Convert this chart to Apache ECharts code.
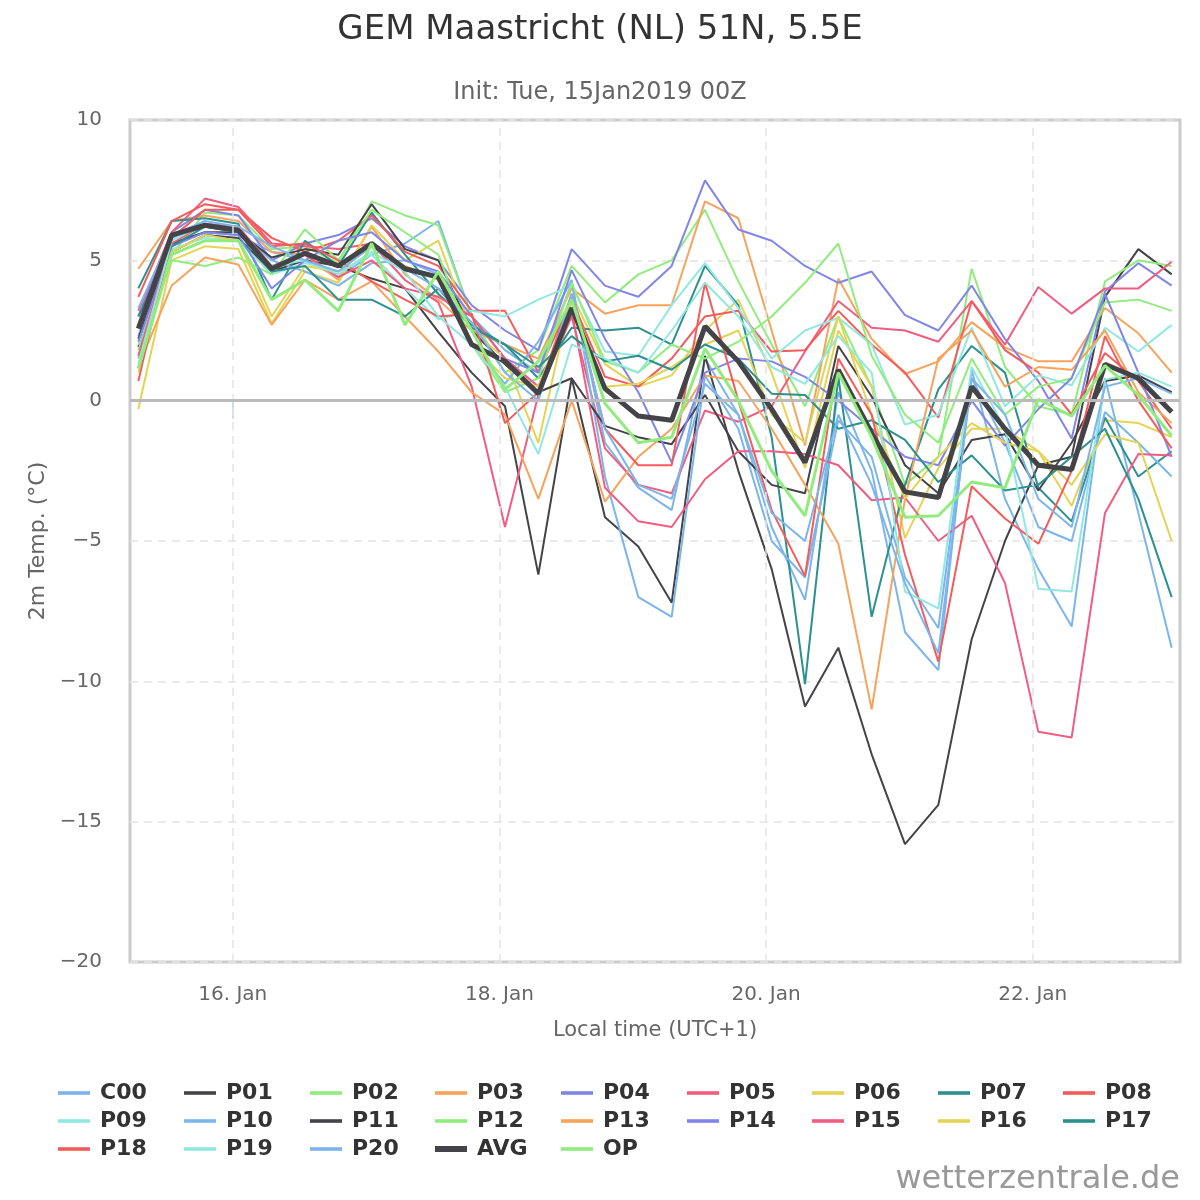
<!DOCTYPE html>
<html>
<head>
<meta charset="utf-8">
<title>GEM Maastricht</title>
<script src="https://cdn.jsdelivr.net/npm/echarts@6/dist/echarts.min.js"></script>
<style>
  html, body { margin: 0; padding: 0; background: #fff; }
  #chart { width: 1200px; height: 1200px; }
</style>
</head>
<body>
<div id="chart"></div>
<script>
// hours after 15 Jan 00:00 local time (UTC+1), one value every 6 h
const hours = [7, 13, 19, 25, 31, 37, 43, 49, 55, 61, 67, 73, 79, 85, 91, 97,
               103, 109, 115, 121, 127, 133, 139, 145, 151, 157, 163, 169, 175, 181, 187, 193];

const dayTicks = [24, 72, 120, 168];
const dayLabels = ['16. Jan', '18. Jan', '20. Jan', '22. Jan'];

// 2m temperature (°C) per ensemble member
const C00 = [1.5, 5.6, 6.0, 5.9, 5.3, 5.0, 4.4, 5.2, 5.6, 6.4, 3.0, 1.8, 1.0, 4.2, -1.5, -3.1, -3.9, 1.5, -0.5, -4.5, -7.1, 0.3, -2.5, -8.25, -9.6, 1.1, -3.5, -6.0, -8.05, 0.8, -4.0, -8.8];
const P01 = [1.9, 5.3, 5.9, 5.8, 4.6, 5.0, 4.8, 4.35, 4.0, 2.45, 1.0, -0.2, -6.2, 0.8, -4.15, -5.2, -7.2, 1.6, -2.5, -6.0, -10.9, -8.8, -12.6, -15.8, -14.4, -8.5, -5.0, -2.3, -2.0, 3.7, 5.4, 4.5];
const P02 = [1.8, 5.2, 6.7, 6.6, 5.4, 5.5, 4.9, 7.1, 6.6, 6.25, 3.0, 1.0, 1.8, 4.8, 3.5, 4.5, 5.0, 6.8, 4.25, 2.0, -0.2, 3.0, 0.5, -3.0, -2.0, 4.7, 1.2, -0.2, -0.5, 4.25, 5.0, 4.8];
const P03 = [4.7, 6.4, 6.6, 6.4, 5.3, 5.2, 4.3, 6.2, 4.5, 3.6, 2.5, 2.0, 1.5, 4.0, 3.1, 3.4, 3.4, 7.1, 6.5, 2.5, -1.6, 4.35, 2.2, 0.95, 1.4, 2.8, 1.9, 1.4, 1.4, 3.3, 2.4, 1.0];
const P04 = [3.0, 6.0, 6.8, 6.6, 5.0, 5.6, 5.9, 6.5, 5.5, 5.0, 3.4, 2.5, 1.8, 5.4, 4.1, 3.7, 4.8, 7.85, 6.1, 5.7, 4.8, 4.2, 4.6, 3.05, 2.5, 4.1, 2.2, 0.7, -1.35, 3.9, 4.9, 4.1];
const P05 = [3.2, 6.0, 7.2, 6.9, 5.6, 5.5, 5.4, 5.6, 4.3, 3.5, 0.5, -4.5, 0.2, 3.0, -1.7, -3.0, -3.3, -0.35, -0.75, -0.2, 1.75, 3.55, 2.6, 2.5, 2.1, 3.55, 2.0, 4.05, 3.1, 4.0, 4.0, 4.95];
const P06 = [-0.3, 5.0, 5.5, 5.4, 2.75, 4.6, 4.2, 6.25, 5.0, 5.7, 2.5, 1.5, -1.5, 3.8, 1.3, 0.5, 0.9, 2.5, 3.6, 1.0, -2.4, 2.5, 0.5, -4.9, -2.4, -1.0, -1.0, -1.8, -3.75, -0.7, -0.8, -1.3];
const P07 = [4.0, 6.4, 6.5, 6.3, 3.6, 5.7, 4.8, 6.7, 5.2, 3.8, 2.7, 2.0, 0.8, 2.6, 2.5, 2.6, 2.0, 4.8, 3.4, -1.3, -10.1, 0.85, -7.7, -3.0, 0.4, 1.95, 1.0, -3.1, -4.3, -0.6, -2.7, -1.8];
const P08 = [3.7, 6.4, 7.0, 6.8, 5.8, 5.3, 5.7, 6.6, 5.3, 4.8, 3.2, 3.2, 1.0, 3.6, 0.85, 0.5, 1.5, 3.0, 3.2, 1.75, 1.8, 3.2, 2.0, 1.0, -0.6, 3.55, 1.8, 1.0, -0.5, 1.7, 0.7, -1.0];
const P09 = [2.0, 5.4, 5.8, 5.7, 4.5, 4.9, 4.6, 5.2, 4.0, 2.9, 3.2, 3.0, 3.6, 4.1, 1.75, 1.6, 3.4, 4.9, 3.3, 1.5, 2.5, 2.95, 2.0, -0.85, -0.5, 2.6, -0.2, 0.9, 0.55, 2.6, 1.75, 2.7];
const P10 = [2.3, 5.8, 6.2, 6.0, 5.0, 4.6, 4.1, 4.9, 5.0, 4.5, 2.0, 0.6, 2.1, 4.3, -2.7, -7.0, -7.7, 0.9, -1.0, -5.0, -6.3, -0.7, -2.0, -6.3, -8.1, 0.8, -1.5, -4.5, -5.0, -0.4, -1.5, -2.7];
const P11 = [2.2, 5.6, 6.0, 6.0, 5.1, 5.4, 5.2, 7.0, 5.4, 5.0, 2.5, 1.3, 0.3, 0.8, -0.9, -1.3, -1.55, 0.2, -1.8, -3.0, -3.3, 1.95, 0.15, -2.3, -3.3, -1.4, -1.2, -3.2, -1.5, 0.7, 0.9, 0.3];
const P12 = [1.6, 5.0, 4.8, 5.1, 4.5, 6.1, 5.0, 6.8, 6.0, 5.2, 2.0, 0.3, 0.8, 4.2, 1.4, 1.0, 2.0, 1.5, 2.1, 3.0, 4.2, 5.6, 1.6, -0.5, -1.5, 1.5, -0.5, 0.5, 0.8, 3.5, 3.6, 3.2];
const P13 = [1.2, 4.1, 5.1, 4.85, 2.7, 4.3, 3.6, 4.25, 3.0, 1.75, 0.3, -0.5, -3.5, 0.0, -3.6, -2.0, -1.0, 0.9, 0.7, -1.0, -3.0, -5.1, -11.0, -3.5, 1.5, 2.5, 0.5, 1.2, 1.1, 2.5, 0.3, -0.8];
const P14 = [2.1, 5.5, 6.0, 5.9, 4.0, 5.0, 5.7, 6.0, 5.0, 4.6, 3.0, 1.5, 1.0, 4.65, 2.2, 0.3, -2.2, 1.0, 1.5, 1.4, 0.85, 0.0, -1.0, -2.0, -2.3, 0.0, -1.6, -0.3, 0.8, 3.8, 1.0, -2.0];
const P15 = [1.6, 5.6, 6.3, 6.2, 4.8, 5.2, 4.4, 5.0, 4.0, 3.7, 3.0, 1.5, 0.5, 3.2, -3.1, -4.3, -4.5, -2.8, -1.8, -1.8, -1.9, -2.3, -3.55, -3.45, -5.0, -4.1, -6.5, -11.8, -12.0, -4.0, -1.9, -1.95];
const P16 = [1.0, 5.3, 5.9, 5.7, 3.0, 4.8, 4.6, 5.5, 4.8, 4.3, 2.0, 0.8, 0.5, 3.5, 0.5, 0.6, 1.2, 2.0, 2.5, -0.5, -1.5, 3.0, -0.5, -3.5, -2.0, -0.8, -1.5, -1.8, -3.0, -1.2, -1.5, -5.0];
const P17 = [3.0, 5.5, 6.2, 6.0, 4.6, 4.8, 3.6, 3.6, 3.0, 4.0, 2.6, 2.0, 1.2, 2.3, 1.4, 1.6, 1.1, 2.0, 1.5, 0.25, 0.2, -1.0, -0.7, -1.4, -2.9, -1.95, -3.2, -3.0, -2.0, -1.0, -3.5, -7.0];
const P18 = [0.7, 5.8, 6.8, 6.8, 5.5, 5.6, 5.0, 4.25, 3.6, 3.0, 3.1, -0.8, 0.3, 3.8, -1.0, -2.3, -2.3, 4.2, 0.0, -3.9, -6.25, 1.5, -0.5, -5.5, -9.3, -3.05, -4.2, -5.1, -2.5, 2.3, 0.0, -1.7];
const P19 = [1.3, 5.7, 6.3, 6.1, 4.8, 5.0, 4.5, 5.3, 4.6, 3.0, 2.0, 0.5, -1.9, 2.0, 1.5, 1.0, 2.5, 4.2, 3.0, 1.2, 0.6, 2.3, 1.0, -6.8, -7.4, 1.2, -1.0, -6.7, -6.8, 0.75, 1.0, 0.5];
const P20 = [3.3, 5.9, 6.4, 6.2, 5.5, 5.0, 4.6, 5.5, 4.7, 4.0, 2.8, 1.0, 0.0, 3.8, -1.0, -3.0, -3.5, 0.6, -0.5, -4.0, -5.0, -0.5, -3.0, -6.5, -9.0, 0.8, -0.5, -3.5, -4.5, 0.5, 0.8, 0.25];
const AVG = [2.57, 5.9, 6.25, 6.07, 4.7, 5.25, 4.8, 5.6, 4.7, 4.4, 2.0, 1.4, 0.25, 3.3, 0.43, -0.55, -0.7, 2.65, 1.4, -0.3, -2.2, 1.1, -1.15, -3.25, -3.45, 0.5, -1.0, -2.3, -2.45, 1.3, 0.8, -0.4];
const OP = [1.14, 5.2, 5.7, 5.7, 3.6, 4.3, 3.2, 5.6, 2.7, 4.6, 2.5, 0.4, 1.4, 3.6, -0.1, -1.5, -1.3, 1.85, 0.0, -2.5, -4.1, 1.0, -1.3, -4.15, -4.1, -2.9, -3.1, 0.05, -0.55, 1.25, 0.2, -1.25];

const palette = ['#7cb5ec', '#434348', '#90ed7d', '#f7a35c', '#8085e9',
                 '#f15c80', '#e4d354', '#2b908f', '#f45b5b', '#91e8e1'];

const members = [
    ['C00', C00], ['P01', P01], ['P02', P02], ['P03', P03], ['P04', P04],
    ['P05', P05], ['P06', P06], ['P07', P07], ['P08', P08], ['P09', P09],
    ['P10', P10], ['P11', P11], ['P12', P12], ['P13', P13], ['P14', P14],
    ['P15', P15], ['P16', P16], ['P17', P17], ['P18', P18], ['P19', P19],
    ['P20', P20]
];

const FONT = 'DejaVu Sans';

const toPoints = (vals) => hours.map((h, i) => [h, vals[i]]);

const series = members.map(([name, vals], i) => ({
    name: name,
    type: 'line',
    data: toPoints(vals),
    color: palette[i % palette.length],
    symbol: 'none',
    lineStyle: { width: 2 },
    emphasis: { disabled: true },
    z: 3
}));

series.push({
    name: 'AVG',
    type: 'line',
    data: toPoints(AVG),
    color: '#434348',
    symbol: 'none',
    lineStyle: { width: 5 },
    emphasis: { disabled: true },
    z: 4
});

series.push({
    name: 'OP',
    type: 'line',
    data: toPoints(OP),
    color: '#90ed7d',
    symbol: 'none',
    lineStyle: { width: 3 },
    emphasis: { disabled: true },
    z: 5
});

// grid helpers: zero line and dashed day lines
series.push({
    type: 'line',
    data: [],
    silent: true,
    z: 1,
    markLine: {
        silent: true,
        symbol: ['none', 'none'],
        label: { show: false },
        lineStyle: { color: '#e3e3e3', width: 1.5, type: [8, 6] },
        data: [
            ...dayTicks.map(h => ({ xAxis: h })),
            { yAxis: 0, lineStyle: { color: '#bbbbbb', width: 3, type: 'solid' } }
        ]
    }
});

// legend laid out as 9 columns x 3 rows
const legendRows = [
    ['C00', 'P01', 'P02', 'P03', 'P04', 'P05', 'P06', 'P07', 'P08'],
    ['P09', 'P10', 'P11', 'P12', 'P13', 'P14', 'P15', 'P16', 'P17'],
    ['P18', 'P19', 'P20', 'AVG', 'OP']
];
const legendLeft = [58, 184, 310, 435, 561, 687, 812, 938, 1063];

// thin bar for members (bbox kept 32x6 by the extra move points), full bar for AVG
const thinIcon = 'path://M0,0 M0,1.2 h32 v3.6 h-32 z M32,6';

const legends = legendLeft.map((x, col) => ({
    orient: 'vertical',
    left: x,
    top: 1079,
    padding: 0,
    itemWidth: 32,
    itemHeight: 6,
    itemGap: 0,
    selectedMode: false,
    symbolKeepAspect: false,
    textStyle: {
        fontFamily: FONT,
        fontWeight: 'bold',
        fontSize: 22,
        color: '#333333',
        lineHeight: 28,
        padding: [0, 0, 0, 5]
    },
    data: legendRows.filter(r => r[col]).map(r => (
        r[col] === 'AVG' ? { name: 'AVG', icon: 'rect' } : { name: r[col], icon: thinIcon }
    ))
}));

const chart = echarts.init(document.getElementById('chart'));

chart.setOption({
    animation: false,
    backgroundColor: '#ffffff',
    title: [
        {
            text: 'GEM Maastricht (NL) 51N, 5.5E',
            left: 'center',
            top: 8,
            textStyle: { fontFamily: FONT, fontSize: 34, fontWeight: 'normal', color: '#333333' }
        },
        {
            text: 'Init: Tue, 15Jan2019 00Z',
            left: 'center',
            top: 76,
            textStyle: { fontFamily: FONT, fontSize: 24, fontWeight: 'normal', color: '#666666' }
        }
    ],
    legend: legends,
    grid: {
        left: 130,
        right: 20,
        top: 120,
        bottom: 238,
        show: true,
        borderColor: '#cccccc',
        borderWidth: 3,
        backgroundColor: '#ffffff'
    },
    xAxis: {
        type: 'value',
        min: 5.5,
        max: 194.5,
        name: 'Local time (UTC+1)',
        nameLocation: 'middle',
        nameGap: 58,
        nameTextStyle: { fontFamily: FONT, fontSize: 21, color: '#666666' },
        axisLine: { show: false },
        splitLine: { show: false },
        axisTick: {
            show: true,
            customValues: dayTicks,
            length: 18,
            lineStyle: { color: '#c4cee0', width: 1.5 }
        },
        axisLabel: {
            customValues: dayTicks,
            margin: 23,
            fontFamily: FONT,
            fontSize: 20,
            color: '#666666',
            formatter: (v) => {
                const k = dayTicks.indexOf(v);
                return k >= 0 ? dayLabels[k] : '';
            }
        }
    },
    yAxis: {
        type: 'value',
        min: -20,
        max: 10,
        interval: 5,
        name: '2m Temp. (°C)',
        nameLocation: 'middle',
        nameGap: 76,
        nameTextStyle: { fontFamily: FONT, fontSize: 22, color: '#666666' },
        axisLine: { show: false },
        axisTick: { show: false },
        axisLabel: {
            margin: 28,
            padding: [10, 0, 0, 0],
            fontFamily: FONT,
            fontSize: 20,
            color: '#666666',
            formatter: (v) => String(v).replace('-', '\u2212')
        },
        splitLine: {
            show: true,
            lineStyle: { color: '#e3e3e3', width: 1.5, type: [8, 6] }
        }
    },
    graphic: [
        {
            type: 'text',
            right: 20,
            bottom: 4,
            style: {
                text: 'wetterzentrale.de',
                fontFamily: FONT,
                fontSize: 32,
                fill: '#999999'
            }
        }
    ],
    series: series
});
</script>
</body>
</html>
